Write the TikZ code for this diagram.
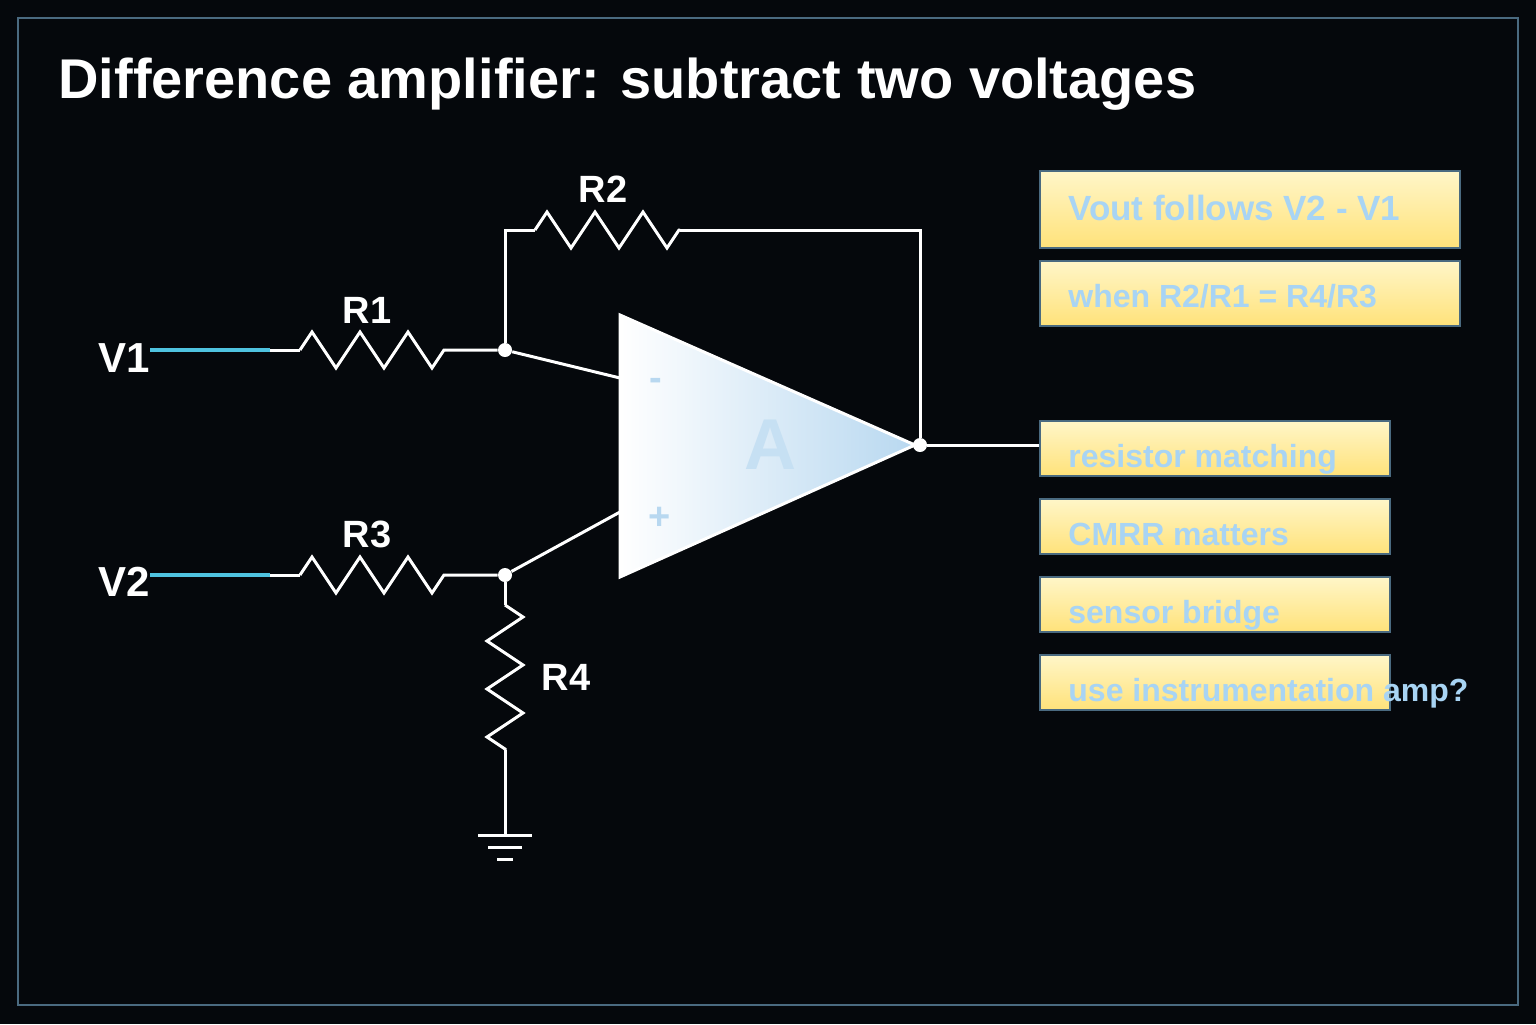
\documentclass[tikz,border=0pt]{standalone}
\usepackage{fontspec}
\setmainfont{Liberation Sans}
\usetikzlibrary{decorations.pathmorphing}
\definecolor{bgc}{HTML}{05080C}
\definecolor{framec}{HTML}{4A6A80}
\definecolor{wirec}{HTML}{4FC3E0}
\definecolor{notec}{HTML}{A8D4F4}
\definecolor{boxtop}{HTML}{FFF6C8}
\definecolor{boxbot}{HTML}{FFE27A}
\definecolor{ampc}{HTML}{B8D8F0}
\tikzset{
  wire/.style={draw=white,line width=1.5pt},
  res/.style={wire,decorate,decoration={zigzag,segment length=24pt,amplitude=9pt}},
  lbl/.style={text=white,font=\bfseries\fontsize{19}{22}\selectfont},
  note/.style={draw=framec,line width=0.8pt,top color=boxtop,bottom color=boxbot},
  notetext/.style={text=notec,inner sep=0pt,font=\bfseries\fontsize{16}{18}\selectfont,anchor=base west},
  dot/.style={circle,fill=white,inner sep=0pt,minimum size=7pt}
}
\begin{document}
\begin{tikzpicture}[x=0.5pt,y=-0.5pt]
\fill[bgc] (0,0) rectangle (1536,1024);
\draw[framec,line width=1pt] (18,18) rectangle (1518,1005);
\node[anchor=base west,inner sep=0pt,text=white,font=\bfseries\fontsize{28}{32}\selectfont] (title) at (58,98) {Difference amplifier: subtract two voltages};

% op amp
\coordinate (tl) at (620,315);
\coordinate (bl) at (620,577);
\coordinate (tip) at (915,445);
\shade[left color=white,right color=ampc,draw=white,line width=1.5pt] (tl) -- (bl) -- (tip) -- cycle;
\node[text=ampc,font=\bfseries\fontsize{19}{22}\selectfont] (minus) at (656,384) {-};
\node[text=ampc,font=\bfseries\fontsize{19}{22}\selectfont] (plus) at (660,518) {+};
\node[text=ampc!80,font=\bfseries\fontsize{36}{40}\selectfont] (A) at (770,445) {A};
\coordinate (inm) at (620,378);
\coordinate (inp) at (620,512);

% nodes
\node[dot] (n1) at (505,350) {};
\node[dot] (n2) at (505,575) {};
\node[dot] (out) at (920,445) {};
\node[lbl,anchor=base west,inner sep=0pt,font=\bfseries\fontsize{21}{24}\selectfont] (v1) at (98,372) {V1};
\node[lbl,anchor=base west,inner sep=0pt,font=\bfseries\fontsize{21}{24}\selectfont] (v2) at (98,596) {V2};
\coordinate (v1e) at (150,350);
\coordinate (v2e) at (150,575);
\coordinate (r1a) at (270,350); \coordinate (r1b) at (300,350);
\coordinate (r1c) at (445,350);
\coordinate (r3a) at (270,575); \coordinate (r3b) at (300,575);
\coordinate (r3c) at (445,575);
\coordinate (r2a) at (505,230); \coordinate (r2b) at (535,230);
\coordinate (r2c) at (680,230); \coordinate (r2d) at (920,230);
\coordinate (r4a) at (505,605); \coordinate (r4b) at (505,750);
\coordinate (gnd) at (505,835);
\coordinate (o) at (1040,445);

% inputs
\draw[wirec,line width=1.8pt] (v1e) -- (r1a);
\draw[wirec,line width=1.8pt] (v2e) -- (r3a);
\draw[wire] (r1a) -- (r1b);
\draw[res] (r1b) -- (r1c);
\draw[wire] (r1c) -- (n1) -- (inm);
\draw[wire] (r3a) -- (r3b);
\draw[res] (r3b) -- (r3c);
\draw[wire] (r3c) -- (n2) -- (inp);
% feedback
\draw[wire] (n1) -- (r2a) -- (r2b);
\draw[res] (r2b) -- (r2c);
\draw[wire] (r2c) -- (r2d) -- (out) -- (o);
% R4 and ground
\draw[wire] (n2) -- (r4a);
\draw[res] (r4a) -- (r4b);
\draw[wire] (r4b) -- (gnd);
\draw[wire] (478,835) -- (532,835) (488,847) -- (522,847) (497,859) -- (513,859);

\node[lbl] (R1) at (367,310) {R1};
\node[lbl] (R2) at (603,189) {R2};
\node[lbl] (R3) at (367,534) {R3};
\node[lbl] (R4) at (566,677) {R4};

% notes
\path[note] (1040,171) rectangle (1460,248);
\path[note] (1040,261) rectangle (1460,326);
\foreach \y in {421,499,577,655}
  \path[note] (1040,\y) rectangle (1390,\y+55);
\node[notetext,font=\bfseries\fontsize{17.5}{20}\selectfont] (t1) at (1068,220) {Vout follows V2 - V1};
\node[notetext] (t2) at (1068,307) {when R2/R1 = R4/R3};
\node[notetext] (t3) at (1068,467) {resistor matching};
\node[notetext] (t4) at (1068,545) {CMRR matters};
\node[notetext] (t5) at (1068,623) {sensor bridge};
\node[notetext] (t6) at (1068,701) {use instrumentation amp?};
\end{tikzpicture}
\end{document}
